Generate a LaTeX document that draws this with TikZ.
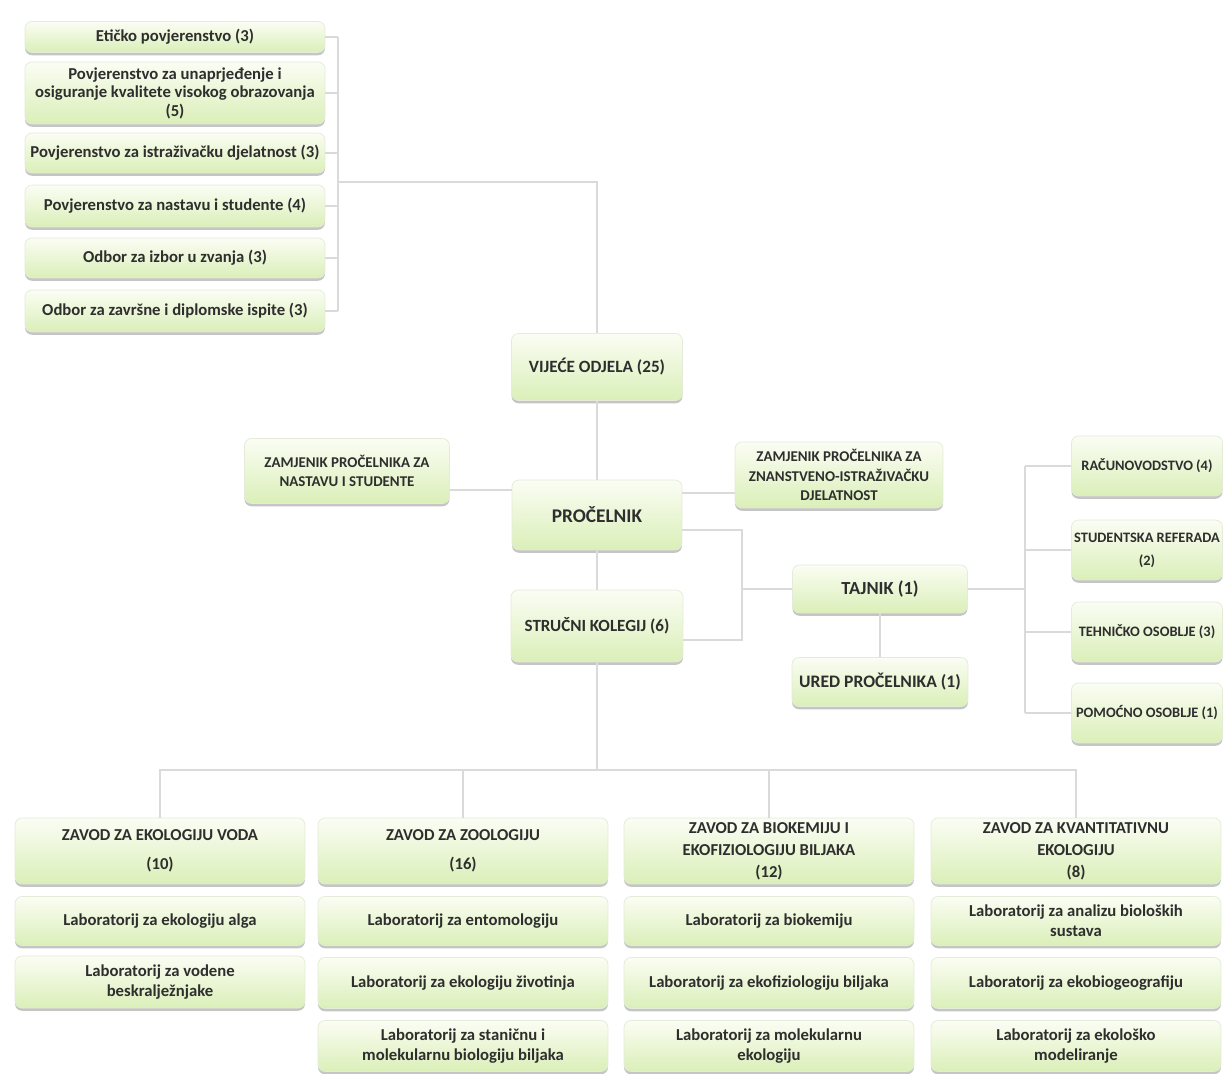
\documentclass[tikz,border=0pt]{standalone}
\usepackage{fontspec}
\setmainfont{Carlito}
\usetikzlibrary{shadows}
\definecolor{boxtop}{HTML}{FBFDF4}
\definecolor{boxbot}{HTML}{DAEFB8}
\definecolor{boxline}{HTML}{E4EBD8}
\definecolor{linkgray}{HTML}{DADADA}
\definecolor{txtgray}{HTML}{2E2E2E}
\newcommand{\fs}[2]{\bfseries\fontsize{#1}{#2}\selectfont}
\begin{document}
\begin{tikzpicture}[x=0.02cm,y=-0.02cm]
    \tikzstyle{unit}=[rectangle,rounded corners=4pt,draw=boxline,thin,top color=boxtop,bottom color=boxbot,
      drop shadow={shadow xshift=0pt,shadow yshift=-1.6pt,fill=black!45,opacity=.5},
      text=txtgray,align=center,inner sep=1.5pt,font=\fs{9.5}{11.5}]
    \tikzstyle{link}=[draw=linkgray,line width=0.9pt]
    \tikzstyle{zavod}=[unit,font=\fs{9.5}{12.5},minimum width=5.8cm,minimum height=1.32cm]
    \tikzstyle{lab}=[unit,minimum width=5.8cm]

    \path[use as bounding box,fill=white] (0,0) rectangle (1224,1074);

    % povjerenstva i odbori
    \foreach \n/\y/\h/\t in {1/37/0.62/{Etičko povjerenstvo (3)},
        2/93/1.24/{Povjerenstvo za unaprjeđenje i\\osiguranje kvalitete visokog obrazovanja\\(5)},
        3/153/0.8/{Povjerenstvo za istraživačku djelatnost (3)},
        4/206/0.84/{Povjerenstvo za nastavu i studente (4)},
        5/258/0.8/{Odbor za izbor u zvanja (3)},
        6/311/0.84/{Odbor za završne i diplomske ispite (3)}}
    \node[unit,font=\fs{9.5}{10.5},minimum width=6cm,minimum height=\h cm] (K-\n) at (175,\y) {\t};

    \node[unit,font=\fs{9.8}{12},minimum width=3.42cm,minimum height=1.34cm] (V) at (597,367) {VIJEĆE ODJELA (25)};
    \node[unit,font=\fs{8.5}{11},minimum width=4.1cm,minimum height=1.3cm] (A-1) at (347,471) {ZAMJENIK PROČELNIKA ZA\\NASTAVU I STUDENTE};
    \node[unit,font=\fs{11}{13},minimum width=3.4cm,minimum height=1.4cm] (P) at (597,515) {PROČELNIK};
    \node[unit,font=\fs{8.5}{11},minimum width=4.16cm,minimum height=1.32cm] (A-2) at (839,475) {ZAMJENIK PROČELNIKA ZA\\ZNANSTVENO-ISTRAŽIVAČKU\\DJELATNOST};
    \node[unit,font=\fs{9.7}{12},minimum width=3.44cm,minimum height=1.44cm] (S) at (597,626) {STRUČNI KOLEGIJ (6)};
    \node[unit,font=\fs{10.5}{12},minimum width=3.5cm,minimum height=0.96cm] (T) at (880,589) {TAJNIK (1)};
    \node[unit,font=\fs{10}{12},minimum width=3.52cm,minimum height=0.98cm] (U) at (880,682) {URED PROČELNIKA (1)};

    % sluzbe
    \foreach \n/\y/\t in {1/466/{RAČUNOVODSTVO (4)},2/550/{STUDENTSKA REFERADA\\[3pt](2)},
        3/632/{TEHNIČKO OSOBLJE (3)},4/713/{POMOĆNO OSOBLJE (1)}}
    \node[unit,font=\fs{8.2}{10},minimum width=3.02cm,minimum height=1.2cm] (R-\n) at (1147,\y) {\t};

    % zavodi
    \node[zavod] (Z-1) at (160,851) {ZAVOD ZA EKOLOGIJU VODA\\[4pt](10)};
    \node[zavod] (Z-2) at (463,851) {ZAVOD ZA ZOOLOGIJU\\[4pt](16)};
    \node[zavod] (Z-3) at (769,851) {ZAVOD ZA BIOKEMIJU I\\EKOFIZIOLOGIJU BILJAKA\\(12)};
    \node[zavod] (Z-4) at (1076,851) {ZAVOD ZA KVANTITATIVNU\\EKOLOGIJU\\(8)};

    % laboratoriji
    \node[lab,minimum height=0.98cm] (L-1-1) at (160,921) {Laboratorij za ekologiju alga};
    \node[lab,minimum height=1.04cm] (L-1-2) at (160,982) {Laboratorij za vodene\\beskralježnjake};
    \node[lab,minimum height=0.98cm] (L-2-1) at (463,921) {Laboratorij za entomologiju};
    \node[lab,minimum height=1.02cm] (L-2-2) at (463,983) {Laboratorij za ekologiju životinja};
    \node[lab,minimum height=1.02cm] (L-2-3) at (463,1046) {Laboratorij za staničnu i\\molekularnu biologiju biljaka};
    \node[lab,minimum height=0.98cm] (L-3-1) at (769,921) {Laboratorij za biokemiju};
    \node[lab,minimum height=1.02cm] (L-3-2) at (769,983) {Laboratorij za ekofiziologiju biljaka};
    \node[lab,minimum height=1.02cm] (L-3-3) at (769,1046) {Laboratorij za molekularnu\\ekologiju};
    \node[lab,minimum height=0.98cm] (L-4-1) at (1076,921) {Laboratorij za analizu bioloških\\sustava};
    \node[lab,minimum height=1.02cm] (L-4-2) at (1076,983) {Laboratorij za ekobiogeografiju};
    \node[lab,minimum height=1.02cm] (L-4-3) at (1076,1046) {Laboratorij za ekološko\\modeliranje};

    % veze
    \coordinate (kbus) at (338,182);
    \coordinate (b-1) at (742,530);
    \coordinate (b-2) at (742,640);
    \coordinate (rbus) at (1025,589);
    \coordinate (zbus) at (597,770);

    \draw[link] (K-1.east -| kbus) -- (K-6.east -| kbus);
    \foreach \n in {1,...,6}
    \draw[link] (K-\n.east) -- (K-\n.east -| kbus);
    \draw[link] (kbus) -| (V.north);
    \draw[link] (V) -- (P);
    \draw[link] (A-1.east |- 0,490) -- (P.west |- 0,490);
    \draw[link] (P.east |- 0,493) -- (A-2.west |- 0,493);
    \draw[link] (P) -- (S);
    \draw[link] (P.east |- b-1) -- (b-1) -- (b-2) -- (S.east |- b-2);
    \draw[link] (b-1 |- T.west) -- (T.west);
    \draw[link] (T) -- (U);
    \draw[link] (T.east) -- (rbus);
    \draw[link] (R-1.west -| rbus) -- (R-4.west -| rbus);
    \foreach \n in {1,...,4}
    \draw[link] (R-\n.west -| rbus) -- (R-\n.west);
    \draw[link] (S.south) -- (zbus);
    \foreach \n in {1,...,4}
    \draw[link] (zbus) -| (Z-\n.north);
\end{tikzpicture}
\end{document}
